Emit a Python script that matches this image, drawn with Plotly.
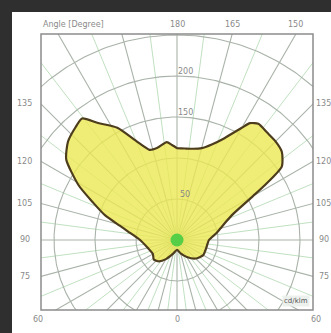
import numpy as np
import plotly.graph_objects as go

# Luminous intensity distribution, cd/klm, gamma measured from nadir (0) to zenith (180)
gamma_right = [0, 15, 30, 45, 60, 75, 90, 100, 105, 110, 115, 120, 122, 125, 130,
               135, 140, 145, 148, 150, 155, 160, 165, 170, 175, 180]
intensity_right = [12, 17, 24, 32, 37, 37, 39, 49, 55, 63, 76, 107, 127, 156, 167,
                   170, 171, 173, 168, 158, 137, 124, 116, 113, 112, 112]

gamma_left = [0, 15, 30, 40, 50, 60, 75, 90, 100, 104, 109, 114, 119, 126, 132,
              138, 142, 146, 152, 158, 163, 168, 174, 177, 180]
intensity_left = [12, 17, 27, 34, 37, 34, 37, 45, 61, 72, 93, 112, 137, 167, 179,
                  185, 188, 172, 155, 129, 115, 115, 120, 116, 112]

ring_values = [50, 100, 150, 200, 250]
ring_labels = ["50", "", "150", "200", ""]
side_angles = [135, 120, 105, 90, 75]
top_angles = [180, 165, 150]
unit_label = "cd/klm"
title_text = "Angle [Degree]"

# frame extents in cd/klm (pole at origin)
X0, X1 = -165.9, 165.9
Y0, Y1 = -85.4, 251.2

fig = go.Figure()

# radial grid every 7.5 degrees, stronger lines every 15 degrees
for k in range(48):
    a = np.radians(k * 7.5)
    major = (k % 2 == 0)
    fig.add_trace(go.Scatter(
        x=[0, 420 * np.sin(a)], y=[0, -420 * np.cos(a)], mode="lines",
        line=dict(color="#a9b3a9" if major else "#b9dcb9", width=1.1 if major else 0.9),
        hoverinfo="skip", showlegend=False))

# intensity rings
th = np.linspace(0, 2 * np.pi, 361)
for rv in ring_values:
    fig.add_trace(go.Scatter(
        x=rv * np.sin(th), y=rv * np.cos(th), mode="lines",
        line=dict(color="#a9b3a9", width=1.1),
        hoverinfo="skip", showlegend=False))

# closed distribution curve: right half up to zenith, left half back to nadir
gr = np.radians(gamma_right)
gl = np.radians(gamma_left[::-1])
ir = np.array(intensity_right, dtype=float)
il = np.array(intensity_left[::-1], dtype=float)
cx = np.concatenate([ir * np.sin(gr), -il * np.sin(gl)])
cy = np.concatenate([-ir * np.cos(gr), -il * np.cos(gl)])

fig.add_trace(go.Scatter(
    x=cx, y=cy, mode="lines", fill="toself",
    fillcolor="rgba(236,232,80,0.78)",
    line=dict(color="#4d3d1c", width=2.2, shape="spline", smoothing=0.6),
    hoverinfo="skip", showlegend=False))

# bright pole where the radial lines converge
fig.add_trace(go.Scatter(
    x=[0], y=[0], mode="markers",
    marker=dict(size=13, color="rgba(40,200,60,0.75)", line=dict(width=0)),
    hoverinfo="skip", showlegend=False))

ann = []
lab_font = dict(family="DejaVu Sans", size=8, color="#8a8a8a")

# ring labels next to the vertical axis
for rv, t in zip(ring_values, ring_labels):
    if t:
        ann.append(dict(x=10, y=rv + 6, xref="x", yref="y", text=t, showarrow=False,
                        font=lab_font, xanchor="center", yanchor="middle"))

# angle labels where the radial lines meet the frame sides
for g in side_angles:
    a = np.radians(g)
    yv = -X1 * np.cos(a) / np.sin(a)
    ann.append(dict(x=-0.06, y=yv, xref="paper", yref="y", text=str(g), showarrow=False,
                    font=lab_font, xanchor="center", yanchor="middle"))
    ann.append(dict(x=1.04, y=yv, xref="paper", yref="y", text=str(g), showarrow=False,
                    font=lab_font, xanchor="center", yanchor="middle"))
for g in top_angles:
    a = np.radians(g)
    xv = -Y1 * np.sin(a) / np.cos(a)
    ann.append(dict(x=xv, y=1.035, xref="x", yref="paper", text=str(g), showarrow=False,
                    font=lab_font, xanchor="center", yanchor="middle"))

ann.append(dict(x=0, y=-0.036, xref="x", yref="paper", text="0", showarrow=False,
                font=lab_font, xanchor="center", yanchor="middle"))
ann.append(dict(x=-0.01, y=-0.036, xref="paper", yref="paper", text="60", showarrow=False,
                font=lab_font, xanchor="center", yanchor="middle"))
ann.append(dict(x=1.01, y=-0.036, xref="paper", yref="paper", text="60", showarrow=False,
                font=lab_font, xanchor="center", yanchor="middle"))
ann.append(dict(x=0.0, y=1.035, xref="paper", yref="paper", text=title_text, showarrow=False,
                font=dict(family="DejaVu Sans", size=8, color="#8a8a8a"),
                xanchor="left", yanchor="middle"))
ann.append(dict(x=0.99, y=0.012, xref="paper", yref="paper", text=unit_label, showarrow=False,
                font=dict(family="DejaVu Sans", size=7, color="#555555"),
                bgcolor="rgba(235,240,235,0.9)", xanchor="right", yanchor="bottom"))

shapes = [
    dict(type="rect", xref="paper", yref="paper", x0=0, y0=0, x1=1, y1=1,
         line=dict(color="#8c8c8c", width=1.5), layer="above"),
    # dark border strips along the top and left edges of the page
    dict(type="rect", xref="paper", yref="paper", x0=-0.16, x1=-0.1066, y0=-0.1, y1=1.13,
         fillcolor="#2f2f2f", line=dict(width=0)),
    dict(type="rect", xref="paper", yref="paper", x0=-0.16, x1=1.08, y0=1.0797, y1=1.13,
         fillcolor="#2f2f2f", line=dict(width=0)),
]

fig.update_layout(
    width=331, height=333,
    margin=dict(l=41, r=18, t=34, b=23),
    paper_bgcolor="white", plot_bgcolor="white",
    xaxis=dict(range=[X0, X1], visible=False, fixedrange=True),
    yaxis=dict(range=[Y0, Y1], visible=False, fixedrange=True),
    annotations=ann, shapes=shapes, showlegend=False,
)

fig.write_html("out.html")
